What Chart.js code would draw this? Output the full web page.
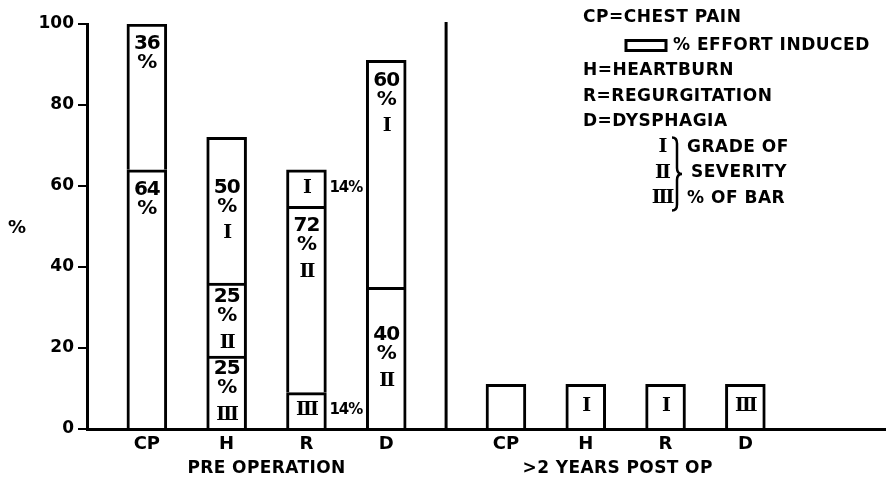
<!DOCTYPE html>
<html>
<head>
<meta charset="utf-8">
<script src="https://cdn.jsdelivr.net/npm/chart.js@4.4.1/dist/chart.umd.min.js"></script>
<style>
  html, body { margin: 0; padding: 0; background: #fff; }
</style>
</head>
<body>
<canvas id="severity" width="891" height="479"></canvas>
<script>
var categories = ['CP', 'H', 'R', 'D'];
var groupTitles = ['PRE OPERATION', '>2 YEARS POST OP'];
var yTicks = [0, 20, 40, 60, 80, 100];

// pre operation, % of patients, one array per segment (bottom to top)
var preCP     = [64, null, null, null];   // chest pain, not effort induced
var preGrade3 = [null, 18, 9, null];
var preGrade2 = [null, 18, 46, 35];
var preGrade1 = [null, 36, 9, 56];
var preEffort = [36, null, null, null];   // chest pain, effort induced

// share printed on each segment (% of bar)
var shareCP     = [64, null, null, null];
var shareGrade3 = [null, 25, 14, null];
var shareGrade2 = [null, 25, 72, 40];
var shareGrade1 = [null, 50, 14, 60];
var shareEffort = [36, null, null, null];

// > 2 years post op
var postCP     = [11, null, null, null];
var postGrade3 = [null, null, null, 11];
var postGrade1 = [null, 11, 11, null];

var legendLines = ['CP=CHEST PAIN', '% EFFORT INDUCED', 'H=HEARTBURN', 'R=REGURGITATION', 'D=DYSPHAGIA'];
var severityLines = [['I', 'GRADE OF'], ['II', 'SEVERITY'], ['III', '% OF BAR']];

// the x axis is cut in 20 slots, bars sit in every other one
var N_SLOTS = 20;
var PRE_SLOTS = [1, 3, 5, 7];
var POST_SLOTS = [10, 12, 14, 16];

function spread(pre, post) {
    var out = [];
    for (var k = 0; k < N_SLOTS; k++) out.push(null);
    PRE_SLOTS.forEach(function (s, i) { if (pre) out[s] = pre[i]; });
    POST_SLOTS.forEach(function (s, i) { if (post) out[s] = post[i]; });
    return out;
}

var slotLabels = spread(categories, categories).map(function (l) { return l || ''; });

var SANS = '"DejaVu Sans", sans-serif';
var SERIF = '"DejaVu Serif", serif';
var NUM_FONT = 'bold 20px ' + SANS;
var ROMAN_FONT = 'bold 19px ' + SERIF;

function segment(label, pre, post, shares, roman) {
    return {
        label: label,
        data: spread(pre, post),
        shares: spread(shares, null),
        roman: roman,
        backgroundColor: '#fff',
        borderColor: '#000',
        borderWidth: 3,
        borderSkipped: 'start',
    };
}

var annotate = {
    id: 'annotate',
    afterDatasetsDraw: function (chart) {
        var ctx = chart.ctx, area = chart.chartArea, xs = chart.scales.x;
        ctx.save();
        ctx.fillStyle = '#000';
        ctx.strokeStyle = '#000';
        ctx.textAlign = 'center';
        ctx.textBaseline = 'middle';

        // labels inside the bars
        chart.data.datasets.forEach(function (ds, di) {
            chart.getDatasetMeta(di).data.forEach(function (bar, i) {
                if (ds.data[i] == null) return;
                var top = bar.y, h = bar.base - bar.y;
                var share = ds.shares[i];
                var lines = [];
                if (share != null) {
                    lines.push({ t: String(share), f: NUM_FONT, gap: 0 });
                    lines.push({ t: '%', f: NUM_FONT, gap: 19 });
                }
                if (ds.roman) lines.push({ t: ds.roman, f: ROMAN_FONT, gap: lines.length ? 27 : 0, roman: true });
                if (!lines.length) return;
                var span = lines.reduce(function (a, l) { return a + l.gap; }, 0);
                if (h >= span + 22) {
                    var y = h > 2.5 * (span + 22) ? top + 20 : top + (h - span) / 2;
                    lines.forEach(function (l) {
                        y += l.gap;
                        ctx.font = l.f;
                        ctx.letterSpacing = l.roman ? '-2px' : '-1px';
                        ctx.fillText(l.t, bar.x, y);
                    });
                } else {
                    // short segment: numeral inside, share beside the bar
                    var mid = top + h / 2;
                    ctx.font = ROMAN_FONT;
                    ctx.letterSpacing = '-2px';
                    if (ds.roman) ctx.fillText(ds.roman, bar.x, mid);
                    if (share != null) {
                        ctx.font = 'bold 15px ' + SANS;
                        ctx.letterSpacing = '-1px';
                        ctx.textAlign = 'left';
                        ctx.fillText(share + '%', bar.x + bar.width / 2 + 3, mid);
                        ctx.textAlign = 'center';
                    }
                }
            });
        });
        ctx.letterSpacing = '0px';

        // divider between pre and post op
        var xd = (xs.getPixelForValue(8) + xs.getPixelForValue(9)) / 2;
        ctx.lineWidth = 3;
        ctx.beginPath();
        ctx.moveTo(xd, area.top - 2);
        ctx.lineTo(xd, area.bottom);
        ctx.stroke();

        // group titles
        ctx.font = 'bold 17px ' + SANS;
        ctx.letterSpacing = '0.4px';
        ctx.fillText(groupTitles[0], (xs.getPixelForValue(PRE_SLOTS[0]) + xs.getPixelForValue(PRE_SLOTS[3])) / 2, area.bottom + 40);
        ctx.fillText(groupTitles[1], (xs.getPixelForValue(POST_SLOTS[0]) + xs.getPixelForValue(POST_SLOTS[3])) / 2 - 8, area.bottom + 40);

        // y title
        ctx.letterSpacing = '0px';
        ctx.font = 'bold 18px ' + SANS;
        ctx.fillText('%', 17, (area.top + area.bottom) / 2 + 2);

        // key, top right
        var lx = area.right - 302, step = 25.5, ly = 18;
        ctx.textAlign = 'left';
        ctx.font = 'bold 17px ' + SANS;
        ctx.letterSpacing = '0.5px';
        legendLines.forEach(function (t, k) {
            var y = ly + k * step + (k > 0 ? 2 : 0);
            if (k === 1) {
                ctx.lineWidth = 3;
                ctx.strokeRect(lx + 43, y - 5, 40, 10);
                ctx.fillText(t, lx + 90, y);
            } else {
                ctx.fillText(t, lx, y);
            }
        });
        severityLines.forEach(function (row, k) {
            var y = ly + 2 + (legendLines.length + k) * step;
            ctx.textAlign = 'center';
            ctx.font = ROMAN_FONT;
            ctx.letterSpacing = '-2px';
            ctx.fillText(row[0], lx + 79, y);
            ctx.letterSpacing = '0.5px';
            ctx.textAlign = 'left';
            ctx.font = 'bold 17px ' + SANS;
            ctx.fillText(row[1], lx + (k === 1 ? 108 : 104), y);
        });
        // curly brace
        var bt = ly + 2 + legendLines.length * step - 10, bb = ly + 2 + (legendLines.length + 2) * step + 12;
        var bx = lx + 94, bm = (bt + bb) / 2;
        ctx.lineWidth = 2.5;
        ctx.beginPath();
        ctx.moveTo(bx - 5, bt);
        ctx.quadraticCurveTo(bx, bt, bx, bt + 6);
        ctx.lineTo(bx, bm - 6);
        ctx.quadraticCurveTo(bx, bm, bx + 5, bm);
        ctx.quadraticCurveTo(bx, bm, bx, bm + 6);
        ctx.lineTo(bx, bb - 6);
        ctx.quadraticCurveTo(bx, bb, bx - 5, bb);
        ctx.stroke();

        ctx.restore();
    }
};

var ctx = document.getElementById('severity');
var myChart = new Chart(ctx, {
    type: 'bar',
    plugins: [annotate],
    data: {
        labels: slotLabels,
        datasets: [
            segment('Chest pain', preCP, postCP, shareCP, ''),
            segment('Grade III', preGrade3, postGrade3, shareGrade3, 'III'),
            segment('Grade II', preGrade2, null, shareGrade2, 'II'),
            segment('Grade I', preGrade1, postGrade1, shareGrade1, 'I'),
            segment('Effort induced', preEffort, null, shareEffort, ''),
        ]
    },
    options: {
        responsive: false,
        animation: false,
        layout: {
            padding: { top: 24, right: 6, left: 0, bottom: 0 }
        },
        plugins: {
            legend: { display: false },
            tooltip: { enabled: false },
        },
        datasets: {
            bar: {
                barPercentage: 1,
                categoryPercentage: 1,
                skipNull: true,
            },
        },
        scales: {
            x: {
                stacked: true,
                grid: { display: false, drawTicks: false },
                border: { display: true, color: '#000', width: 3 },
                ticks: {
                    autoSkip: false,
                    maxRotation: 0,
                    padding: 5,
                    color: '#000',
                    font: { family: SANS, size: 18, weight: 'bold' },
                },
                afterFit: function (scale) { scale.height = 50; },
            },
            y: {
                stacked: true,
                min: 0,
                max: 100,
                afterBuildTicks: function (scale) {
                    scale.ticks = yTicks.map(function (v) { return { value: v }; });
                },
                grid: {
                    drawOnChartArea: false,
                    drawTicks: true,
                    tickLength: 9,
                    color: '#000',
                    lineWidth: 2,
                },
                border: { display: true, color: '#000', width: 3 },
                ticks: {
                    padding: 4,
                    color: '#000',
                    font: { family: SANS, size: 17, weight: 'bold' },
                },
                afterFit: function (scale) { scale.width = 87; },
            },
        },
    },
});
</script>
</body>
</html>
